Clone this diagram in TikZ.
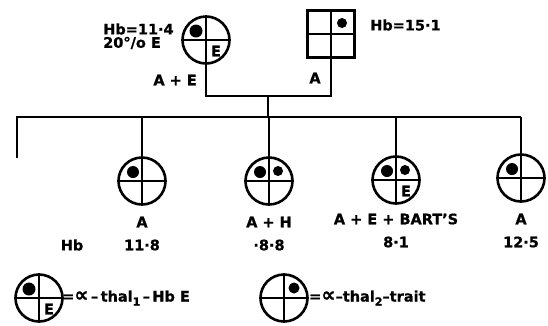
\documentclass[tikz,border=0pt]{standalone}
\usepackage{fontspec}
\setmainfont{DejaVu Sans}[BoldFeatures={FakeBold=0.8}]
\usetikzlibrary{calc}
\tikzset{
  ln/.style={line width=2.6pt},
  sym/.style={circle, draw, line width=2.6pt, minimum size=47pt, inner sep=0pt},
  lab/.style={font=\bfseries\fontsize{14.5}{16}\selectfont, inner sep=0pt},
}
\newcommand{\crossin}[1]{\draw[ln] (#1.north) -- (#1.south) (#1.west) -- (#1.east);}
\newcommand{\subn}[1]{\raisebox{-4pt}{\fontsize{11}{11}\selectfont #1}}
\newcommand{\prp}{{\fontsize{20}{20}\selectfont ∝}}
\begin{document}
\begin{tikzpicture}[x=1pt,y=-1pt]
\useasboundingbox (0,0) rectangle (548,325);
% parents
\node[sym] (m) at (206,40) {};
\crossin{m}
\fill ($(m)+(-10,-9)$) circle (6.5);
\node[lab] (me) at ($(m)+(10,11)$) {E};
\node[draw, line width=2.6pt, minimum size=47pt, inner sep=0pt] (f) at (331,34) {};
\crossin{f}
\fill ($(f)+(11,-11)$) circle (5);
\node[lab, anchor=west] (mhb) at (103,29) {Hb=11·4};
\node[lab, anchor=west] (mpc) at (103,43) {20°/o E};
\node[lab, anchor=east] (mae) at (197,80) {A + E};
\node[lab, anchor=west] (fhb) at (370,25) {Hb=15·1};
\node[lab] (fa) at (315,78) {A};
% marriage line
\coordinate (mj) at (268,96);
\coordinate (mc) at (206,96);
\coordinate (fc) at (331,96);
\draw[ln] (m.south) -- (mc) -- (fc) -- (f.south);
% sibship
\coordinate (sl) at (17,117);
\coordinate (sr) at (521,117);
\coordinate (sd) at (17,158);
\coordinate (sj) at (268,117);
\draw[ln] (mj) -- (sj);
\draw[ln] (sd) -- (sl) -- (sr);
% children
\node[sym] (c1) at (142,181) {};
\node[sym] (c2) at (269,181) {};
\node[sym] (c3) at (396,180) {};
\node[sym] (c4) at (521,178) {};
\foreach \c in {c1,c2,c3,c4}{\crossin{\c}}
\foreach \c/\x in {c1/142,c2/269,c3/396,c4/521}{\draw[ln] (\x,117) -- (\c.north);}
\fill ($(c1)+(-9,-9)$) circle (6);
\fill ($(c2)+(-9,-9)$) circle (6);
\fill ($(c2)+(9,-10)$) circle (5);
\fill ($(c3)+(-9,-9)$) circle (6);
\fill ($(c3)+(9,-10)$) circle (5);
\node[lab] (c3e) at ($(c3)+(10,11)$) {E};
\fill ($(c4)+(-9,-9)$) circle (6);
% child labels
\node[lab] (g1) at (142,222) {A};
\node[lab] (h1) at (142,245) {11·8};
\node[lab] (hb) at (72,245) {Hb};
\node[lab] (g2) at (269,222) {A + H};
\node[lab] (h2) at (269,245) {·8·8};
\node[lab] (g3) at (396,219) {A + E + BART'S};
\node[lab] (h3) at (396,242) {8·1};
\node[lab] (g4) at (521,219) {A};
\node[lab] (h4) at (521,242) {12·5};
% legend
\node[sym] (l1) at (39,298) {};
\crossin{l1}
\fill ($(l1)+(-10,-9)$) circle (6.5);
\node[lab] (l1e) at ($(l1)+(10,11)$) {E};
\node[lab, anchor=west] (t1) at (62,298) {=\prp\,–\,thal\subn{1}\,–\,Hb E};
\node[sym] (l2) at (284,298) {};
\crossin{l2}
\fill ($(l2)+(10,-10)$) circle (5.5);
\node[lab, anchor=west] (t2) at (309,298) {=\prp–thal\subn{2}–trait};
\end{tikzpicture}
\end{document}
